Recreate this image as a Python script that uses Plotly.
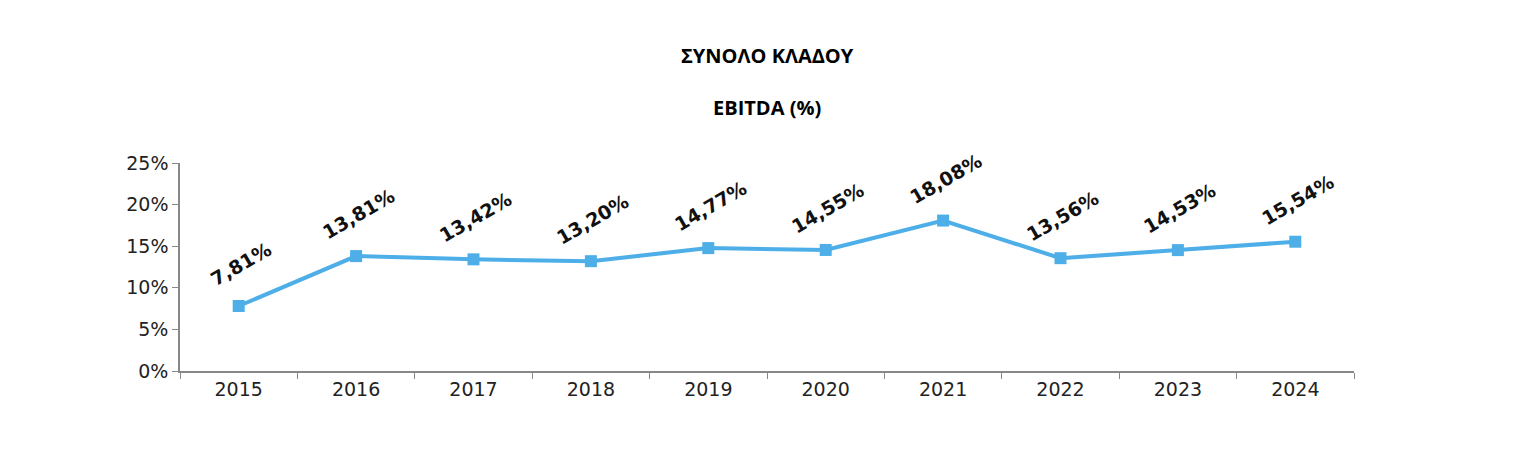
import plotly.graph_objects as go

years = ["2015","2016","2017","2018","2019","2020","2021","2022","2023","2024"]
ebitda = [7.81,13.81,13.42,13.20,14.77,14.55,18.08,13.56,14.53,15.54]
labels = ["7,81%","13,81%","13,42%","13,20%","14,77%","14,55%","18,08%","13,56%","14,53%","15,54%"]
yticks = [0,5,10,15,20,25]
yticktext = ["0%","5%","10%","15%","20%","25%"]

fig = go.Figure(go.Scatter(
    x=years, y=ebitda, mode="lines+markers",
    line=dict(color="#4DAEE8", width=4),
    marker=dict(symbol="square", size=12, color="#4DAEE8"),
    hoverinfo="skip"))

for i, (y, t) in enumerate(zip(ebitda, labels)):
    fig.add_annotation(x=i, y=y, text="<b>"+t+"</b>", showarrow=False,
                       textangle=-30, yshift=42, xshift=2,
                       font=dict(family="DejaVu Sans", size=19, color="#111"))

fig.add_annotation(text="<b>ΣΥΝΟΛΟ ΚΛΑΔΟΥ</b>", xref="paper", yref="paper",
                   x=0.5, y=1, yshift=123, showarrow=False,
                   font=dict(family="Open Sans", size=20, color="#000"))
fig.add_annotation(text="<b>EBITDA (%)</b>", xref="paper", yref="paper",
                   x=0.5, y=1, yshift=71, showarrow=False,
                   font=dict(family="Open Sans", size=20, color="#000"))

fig.update_layout(
    width=1538, height=456, paper_bgcolor="white", plot_bgcolor="white",
    margin=dict(l=172, r=192, t=155, b=93), showlegend=False,
    xaxis=dict(type="category", range=[-0.5, 9.5], showline=True, linecolor="#888",
               linewidth=1.5, ticks="outside", tickson="boundaries", ticklen=6,
               tickcolor="#888", showgrid=False,
               tickfont=dict(family="DejaVu Sans", size=19, color="#222")),
    yaxis=dict(range=[0, 25], tickvals=yticks, ticktext=yticktext, showline=True,
               linecolor="#888", linewidth=1.5, ticks="outside", ticklen=6,
               tickcolor="#888", showgrid=False, zeroline=False,
               tickfont=dict(family="DejaVu Sans", size=19, color="#222")),
)
fig.write_html("out.html")
